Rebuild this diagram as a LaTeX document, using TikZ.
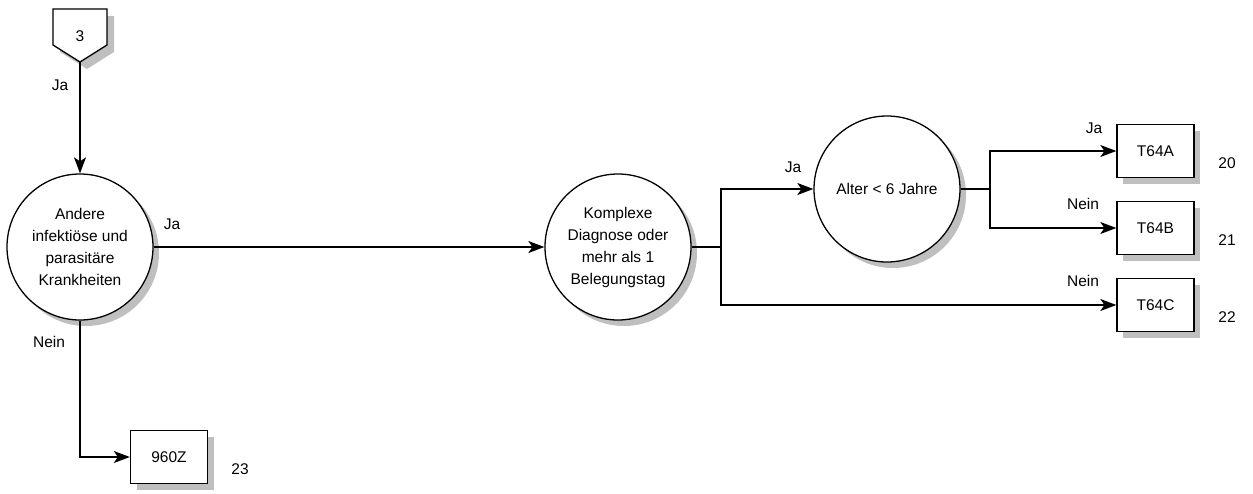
\documentclass[tikz,border=0pt]{standalone}
\usepackage{fontspec}
\setmainfont{Liberation Sans}
\usetikzlibrary{arrows.meta,shadows}
\begin{document}
\begin{tikzpicture}[x=1pt,y=-1pt,
  lw/.style={line width=1.3pt},
  conn/.style={lw,-{Stealth[length=16pt,width=12pt,inset=4pt]}},
  plain/.style={lw},
  shad/.style={drop shadow={shadow xshift=6pt,shadow yshift=-6pt,opacity=1,fill=black!25}},
  dec/.style={circle,draw,lw,fill=white,shad,minimum size=146pt,inner sep=0pt,align=center,font=\fontsize{15.5}{22}\selectfont},
  res/.style={rectangle,draw,lw,fill=white,shad,minimum width=77pt,minimum height=53pt,inner sep=0pt,font=\fontsize{15.5}{18}\selectfont},
  lbl/.style={font=\fontsize{15.5}{18}\selectfont,inner sep=0pt},
]
\useasboundingbox (0,0) rectangle (1253,493);
% off-page connector
\fill[black!25] (60,16) -- (114,16) -- (114,52) -- (87,69) -- (60,52) -- cycle;
\draw[lw,fill=white] (53,9) -- (107,9) -- (107,45) -- (80,62) -- (53,45) -- cycle;
\coordinate (p) at (80,62);
\node[lbl] (p3) at (80,36) {3};
% decisions
\node[dec] (c1) at (80,247) {Andere\\infektiöse und\\parasitäre\\Krankheiten};
\node[dec] (c2) at (618,247) {Komplexe\\Diagnose oder\\mehr als 1\\Belegungstag};
\node[dec] (c3) at (887,189) {Alter < 6 Jahre};
% results
\node[res] (ta) at (1155.5,151) {T64A};
\node[res] (tb) at (1155.5,228) {T64B};
\node[res] (tc) at (1155.5,305) {T64C};
\node[res] (z) at (169,457) {960Z};
% junctions
\coordinate (j1) at (721,247);
\coordinate (j2) at (990,189);
% connectors
\draw[conn] (p) -- (c1.north);
\draw[conn] (c1.east) -- (c2.west);
\draw[plain] (c2.east) -- (j1);
\draw[conn] (j1) |- (c3.west);
\draw[conn] (j1) |- (tc.west);
\draw[plain] (c3.east) -- (j2);
\draw[conn] (j2) |- (ta.west);
\draw[conn] (j2) |- (tb.west);
\draw[conn] (c1.south) |- (z.west);
% labels
\node[lbl] (l1) at (60,85) {Ja};
\node[lbl] (l2) at (172,224) {Ja};
\node[lbl] (l3) at (49,342) {Nein};
\node[lbl] (l4) at (793,167) {Ja};
\node[lbl] (l5) at (1094,128) {Ja};
\node[lbl] (l6) at (1083,204) {Nein};
\node[lbl] (l7) at (1083,281) {Nein};
\node[lbl] (n20) at (1227,163) {20};
\node[lbl] (n21) at (1227,240) {21};
\node[lbl] (n22) at (1227,317) {22};
\node[lbl] (n23) at (240,469) {23};
\end{tikzpicture}
\end{document}
